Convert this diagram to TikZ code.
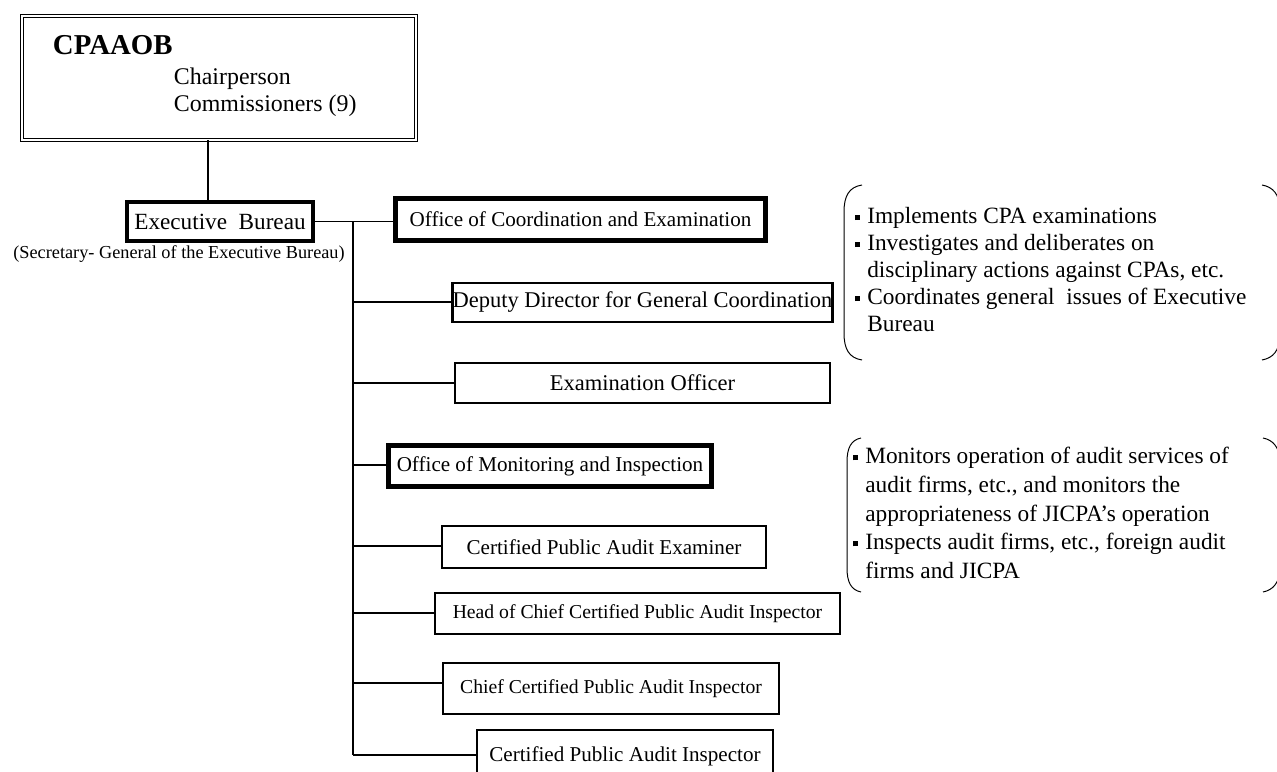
\documentclass[tikz,border=0pt]{standalone}
\usepackage{fontspec}
\setmainfont{Liberation Serif}
\usetikzlibrary{positioning}
\newcommand\sqb{\llap{\rule[0.32ex]{0.22em}{0.22em}\hspace{0.3em}}}

\begin{document}
\begin{tikzpicture}[
  x=0.25mm, y=-0.25mm,
  box/.style={draw, inner sep=0pt, align=center, font=\fontsize{16}{19}\selectfont},
  thin/.style={box, line width=0.75pt},
  mid/.style={box, line width=1.5pt},
  office/.style={box, line width=3.4pt},
  link/.style={line width=1.3pt},
  trunk/.style={line width=1pt},
  note/.style={align=left, inner sep=0pt, font=\fontsize{16.6}{19.2}\selectfont},
  brace/.style={line width=0.7pt}
]
\useasboundingbox (0,0) rectangle (1277,772);
\clip (0,0) rectangle (1277,772);

% commission
\node[draw, double, double distance=1.5pt, line width=0.6pt, minimum width=98.5mm, minimum height=31mm] (cpaaob) at (219,78) {};
\node[anchor=west, font=\fontsize{20.5}{24}\selectfont\bfseries] (name) at (48,45) {CPAAOB};
\node[anchor=west, align=left, font=\fontsize{17}{19}\selectfont] (members) at (169,92) {Chairperson\\Commissioners (9)};

% bureau
\node[office, font=\fontsize{16.5}{20}\selectfont, minimum width=46.5mm, minimum height=9.75mm] (eb) at (220,221.5) {Executive\ \ Bureau};
\node[below=0.6mm of eb, xshift=-10.25mm, inner sep=0pt, font=\fontsize{13}{15}\selectfont] (sg) {(Secretary- General of the Executive Bureau)};

% offices and officers
\node[office, font=\fontsize{15}{18}\selectfont, minimum width=92.5mm, minimum height=10.5mm] (oce) at (580.5,219.5) {Office of Coordination and Examination};
\node[box, line width=1.8pt, minimum width=93.25mm, minimum height=9.75mm] (dep) at (642.5,302.5) {Deputy Director for General Coordination};
\node[box, line width=1.1pt, minimum width=93.75mm, minimum height=10mm] (exo) at (642.5,383) {Examination Officer};
\node[office, font=\fontsize{15}{18}\selectfont, minimum width=80.75mm, minimum height=10.25mm] (omi) at (550,466) {Office of Monitoring and Inspection};
\node[mid, font=\fontsize{15}{18}\selectfont, minimum width=81mm, minimum height=10.5mm] (cpae) at (604,547) {Certified Public Audit Examiner};
\node[thin, font=\fontsize{14}{17}\selectfont, minimum width=101.25mm, minimum height=10.25mm] (head) at (637.5,613.5) {Head of Chief Certified Public Audit Inspector};
\node[thin, font=\fontsize{14}{17}\selectfont, minimum width=84mm, minimum height=12.75mm] (chief) at (611,688.5) {Chief Certified Public Audit Inspector};
\node[thin, font=\fontsize{15}{18}\selectfont, minimum width=74mm, minimum height=13mm] (cpai) at (625,756) {Certified Public Audit Inspector};

% branch points on the trunk
\coordinate (b1) at (353,302);
\coordinate (b2) at (353,383);
\coordinate (b3) at (353,465);
\coordinate (b4) at (353,546);
\coordinate (b5) at (353,613);
\coordinate (b6) at (353,683);
\coordinate (b7) at (353,755);

\draw[link] ([xshift=-3mm]eb.north) -- ([xshift=-3mm]eb.north |- cpaaob.south);
\draw[link] (eb.east) -- (eb.east -| oce.west);
\draw[trunk] (eb.east -| b7) -- (b7);
\draw[link] (b1) -- (b1 -| dep.west);
\draw[trunk] (b2) -- (b2 -| exo.west);
\draw[trunk] (b3) -- (b3 -| omi.west);
\draw[link] (b4) -- (b4 -| cpae.west);
\draw[trunk] (b5) -- (b5 -| head.west);
\draw[trunk] (b6) -- (b6 -| chief.west);
\draw[trunk] (b7) -- (b7 -| cpai.west);

% duties
\node[note, anchor=north west] (duty1) at (867,207) {\sqb Implements CPA examinations\\
\sqb Investigates and deliberates on\\
disciplinary actions against CPAs, etc.\\
\sqb Coordinates general\ \ issues of Executive\\
Bureau};
\node[note, anchor=north west, font=\fontsize{16.6}{20.4}\selectfont] (duty2) at (865,447) {\sqb Monitors operation of audit services of\\
audit firms, etc., and monitors the\\
appropriateness of JICPA’s operation\\
\sqb Inspects audit firms, etc., foreign audit\\
firms and JICPA};

\draw[brace] (862,185) .. controls (849,187) and (844,196) .. (844,212) -- (844,333) .. controls (844,349) and (849,358) .. (862,360);
\draw[brace] (1262,185) .. controls (1273,187) and (1279,194) .. (1280,208) -- (1280,337) .. controls (1279,351) and (1273,358) .. (1262,360);
\draw[brace] (861,438) .. controls (851,440) and (847,448) .. (847,462) -- (847,568) .. controls (847,582) and (851,590) .. (861,592);
\draw[brace] (1263,438) .. controls (1273,440) and (1279,447) .. (1280,460) -- (1280,570) .. controls (1279,583) and (1273,590) .. (1263,592);
\end{tikzpicture}
\end{document}
